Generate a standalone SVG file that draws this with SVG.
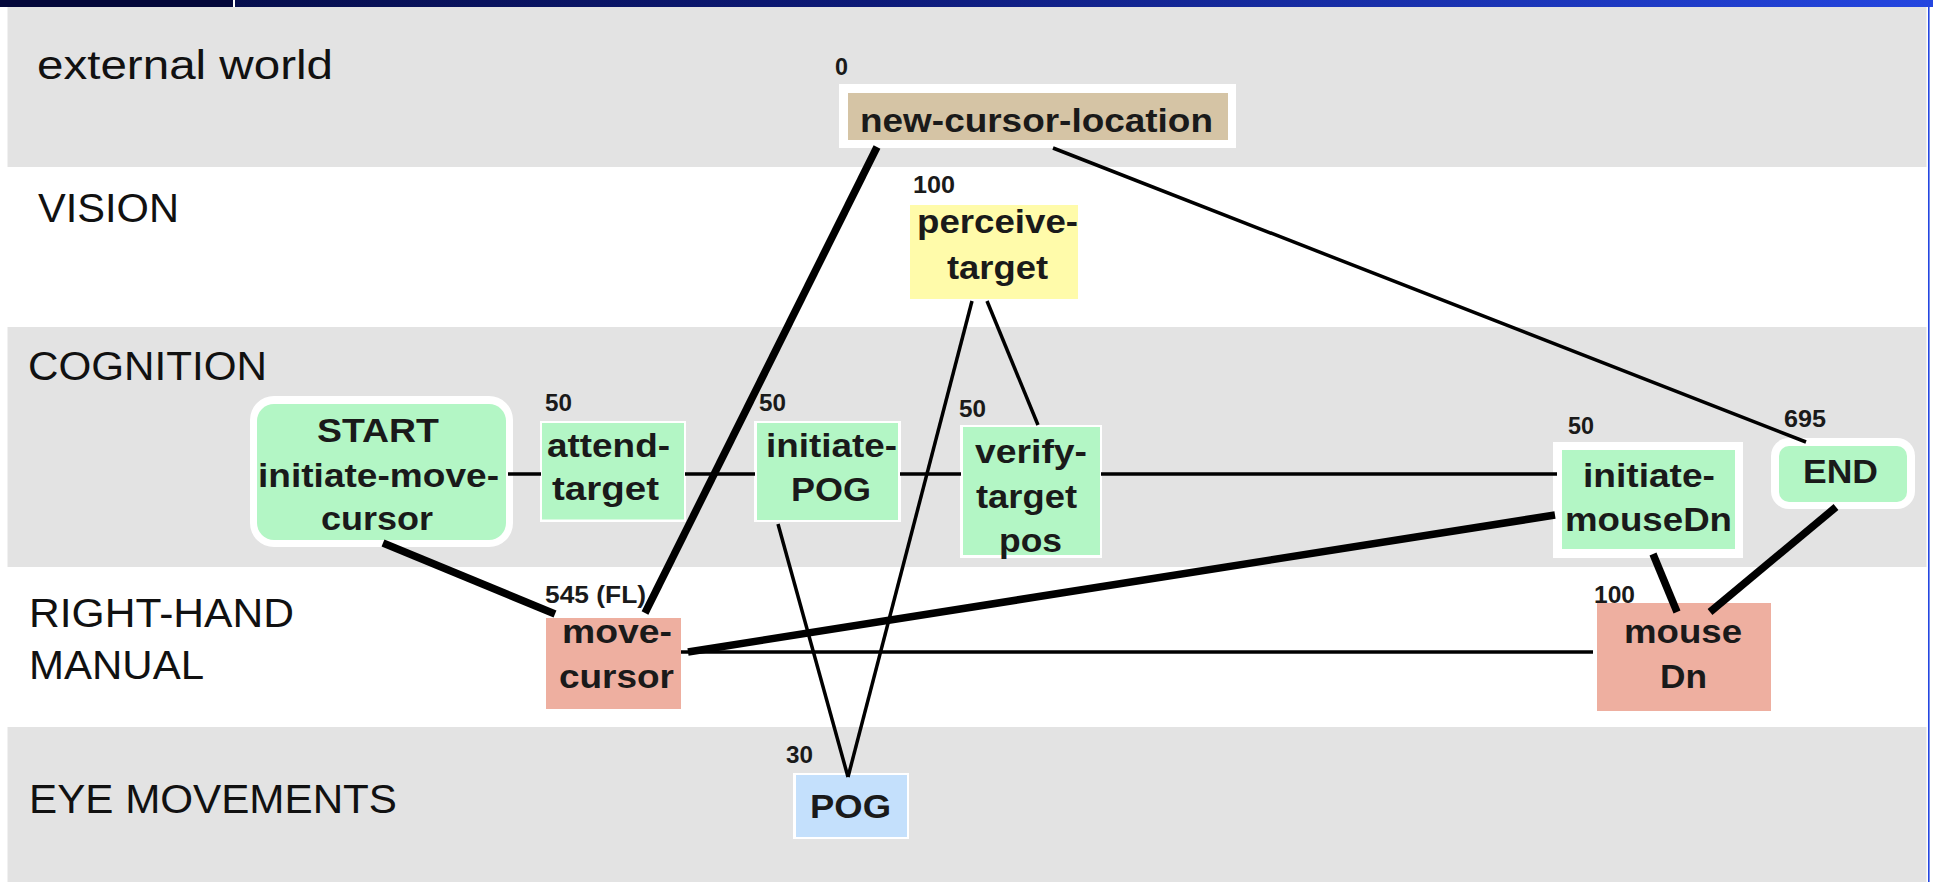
<svg xmlns="http://www.w3.org/2000/svg" width="1933" height="882" viewBox="0 0 1933 882">
  <defs>
    <linearGradient id="barGrad" x1="0" y1="0" x2="1" y2="0">
      <stop offset="0" stop-color="#040a3e"/>
      <stop offset="0.45" stop-color="#0d1a78"/>
      <stop offset="1" stop-color="#2446e0"/>
    </linearGradient>
    <style>
      .lane { font-family: "Liberation Sans", Arial, sans-serif; font-size: 40px; fill: #111; }
      .lbl { font-family: "Liberation Sans", Arial, sans-serif; font-size: 34px; font-weight: bold; fill: #1a1a1a; }
      .num { font-family: "Liberation Sans", Arial, sans-serif; font-size: 23px; font-weight: bold; fill: #1a1a1a; }
      .band { fill: #e3e3e3; }
      .frame { fill: #ffffff; }
      .green { fill: #b3f6c5; }
      .tan { fill: #d5c4a5; }
      .yellow { fill: #fffbaa; }
      .salmon { fill: #eeafa0; }
      .blue { fill: #c4e0fc; }
      .thin { stroke: #000; stroke-width: 3.5; fill: none; }
      .thick { stroke: #000; stroke-width: 7.5; fill: none; }
    </style>
  </defs>

  <!-- page background and header bar -->
  <rect x="0" y="0" width="1933" height="882" fill="#ffffff"/>
  <rect x="0" y="0" width="1933" height="7" fill="url(#barGrad)"/>
  <rect x="0" y="0" width="233" height="7" fill="#03073a"/>
  <rect x="233" y="0" width="2" height="7" fill="#ffffff"/>
  <rect x="1928" y="0" width="1.6" height="882" fill="#2446e0"/>

  <!-- swimlanes -->
  <g id="lanes">
    <rect class="band" x="7.5" y="7" width="1919" height="160"/>
    <rect class="band" x="7.5" y="327" width="1919" height="240"/>
    <rect class="band" x="7.5" y="727" width="1919" height="155"/>
    <text class="lane" x="37" y="79" font-size="45" textLength="296" lengthAdjust="spacingAndGlyphs">external world</text>
    <text class="lane" x="38" y="222" textLength="141" lengthAdjust="spacingAndGlyphs">VISION</text>
    <text class="lane" x="28" y="380" textLength="239" lengthAdjust="spacingAndGlyphs">COGNITION</text>
    <text class="lane" x="29" y="627" textLength="265" lengthAdjust="spacingAndGlyphs">RIGHT-HAND</text>
    <text class="lane" x="29" y="679" textLength="175" lengthAdjust="spacingAndGlyphs">MANUAL</text>
    <text class="lane" x="29" y="813" textLength="368" lengthAdjust="spacingAndGlyphs">EYE MOVEMENTS</text>
  </g>

  <!-- operators -->
  <g id="new-cursor-location">
    <rect class="frame" x="839" y="84" width="397" height="64"/>
    <rect class="tan" x="848" y="93" width="380" height="47"/>
    <text class="num" x="835" y="75" textLength="13" lengthAdjust="spacingAndGlyphs">0</text>
    <text class="lbl" x="860" y="132" textLength="353" lengthAdjust="spacingAndGlyphs">new-cursor-location</text>
  </g>

  <g id="start">
    <rect class="frame" x="250" y="396" width="263" height="151" rx="24"/>
    <rect class="green" x="257" y="404" width="249" height="136" rx="17"/>
    <text class="lbl" x="317" y="442" textLength="122" lengthAdjust="spacingAndGlyphs">START</text>
    <text class="lbl" x="258" y="487" textLength="241" lengthAdjust="spacingAndGlyphs">initiate-move-</text>
    <text class="lbl" x="321" y="530" textLength="112" lengthAdjust="spacingAndGlyphs">cursor</text>
  </g>

  <g id="attend-target">
    <rect class="frame" x="540" y="421" width="146" height="101"/>
    <rect class="green" x="542" y="423" width="142" height="96.5"/>
    <text class="num" x="545" y="411" textLength="27" lengthAdjust="spacingAndGlyphs">50</text>
    <text class="lbl" x="547" y="457" textLength="123" lengthAdjust="spacingAndGlyphs">attend-</text>
    <text class="lbl" x="552" y="500" textLength="107" lengthAdjust="spacingAndGlyphs">target</text>
  </g>

  <g id="perceive-target">
    <rect class="yellow" x="910" y="205" width="168" height="94"/>
    <text class="num" x="913" y="193" textLength="42" lengthAdjust="spacingAndGlyphs">100</text>
    <text class="lbl" x="917" y="233" textLength="161" lengthAdjust="spacingAndGlyphs">perceive-</text>
    <text class="lbl" x="947" y="279" textLength="101" lengthAdjust="spacingAndGlyphs">target</text>
  </g>

  <g id="initiate-pog">
    <rect class="frame" x="754" y="421" width="147" height="101"/>
    <rect class="green" x="757" y="423" width="141" height="97"/>
    <text class="num" x="759" y="411" textLength="27" lengthAdjust="spacingAndGlyphs">50</text>
    <text class="lbl" x="766" y="457" textLength="131" lengthAdjust="spacingAndGlyphs">initiate-</text>
    <text class="lbl" x="791" y="501" textLength="80" lengthAdjust="spacingAndGlyphs">POG</text>
  </g>

  <g id="verify-target-pos">
    <rect class="frame" x="960" y="425" width="142" height="133"/>
    <rect class="green" x="963" y="427" width="137" height="128"/>
    <text class="num" x="959" y="417" textLength="27" lengthAdjust="spacingAndGlyphs">50</text>
    <text class="lbl" x="975" y="463" textLength="112" lengthAdjust="spacingAndGlyphs">verify-</text>
    <text class="lbl" x="976" y="508" textLength="101" lengthAdjust="spacingAndGlyphs">target</text>
    <text class="lbl" x="999" y="552" textLength="63" lengthAdjust="spacingAndGlyphs">pos</text>
  </g>

  <g id="initiate-mousedn">
    <rect class="frame" x="1553" y="442" width="190" height="116"/>
    <rect class="green" x="1562" y="450" width="173" height="99"/>
    <text class="num" x="1568" y="434" textLength="26" lengthAdjust="spacingAndGlyphs">50</text>
    <text class="lbl" x="1583" y="487" textLength="132" lengthAdjust="spacingAndGlyphs">initiate-</text>
    <text class="lbl" x="1565" y="531" textLength="167" lengthAdjust="spacingAndGlyphs">mouseDn</text>
  </g>

  <g id="end">
    <rect class="frame" x="1771" y="438" width="144" height="71" rx="18"/>
    <rect class="green" x="1779" y="446" width="128" height="56" rx="10"/>
    <text class="num" x="1784" y="427" textLength="42" lengthAdjust="spacingAndGlyphs">695</text>
    <text class="lbl" x="1803" y="483" textLength="75" lengthAdjust="spacingAndGlyphs">END</text>
  </g>

  <g id="move-cursor">
    <rect class="salmon" x="546" y="618" width="135" height="91"/>
    <text class="num" x="545" y="603" textLength="101" lengthAdjust="spacingAndGlyphs">545 (FL)</text>
    <text class="lbl" x="562" y="643" textLength="110" lengthAdjust="spacingAndGlyphs">move-</text>
    <text class="lbl" x="559" y="688" textLength="115" lengthAdjust="spacingAndGlyphs">cursor</text>
  </g>

  <g id="mousedn">
    <rect class="salmon" x="1597" y="603" width="174" height="108"/>
    <text class="num" x="1594" y="603" textLength="41" lengthAdjust="spacingAndGlyphs">100</text>
    <text class="lbl" x="1624" y="643" textLength="118" lengthAdjust="spacingAndGlyphs">mouse</text>
    <text class="lbl" x="1660" y="688" textLength="47" lengthAdjust="spacingAndGlyphs">Dn</text>
  </g>

  <g id="pog">
    <rect class="frame" x="793" y="773" width="116" height="66"/>
    <rect class="blue" x="796" y="775" width="111" height="62"/>
    <text class="num" x="786" y="763" textLength="27" lengthAdjust="spacingAndGlyphs">30</text>
    <text class="lbl" x="810" y="818" textLength="81" lengthAdjust="spacingAndGlyphs">POG</text>
  </g>

  <!-- dependency links -->
  <g id="connectors">
    <line class="thin" x1="508" y1="474" x2="541" y2="474"/>
    <line class="thin" x1="685" y1="474" x2="755" y2="474"/>
    <line class="thin" x1="900" y1="474" x2="961" y2="474"/>
    <line class="thin" x1="1101" y1="474" x2="1557" y2="474"/>
    <line class="thin" x1="1053" y1="148" x2="1806" y2="442"/>
    <line class="thin" x1="972" y1="301" x2="848" y2="777"/>
    <line class="thin" x1="987" y1="301" x2="1038" y2="425"/>
    <line class="thin" x1="778" y1="524" x2="848" y2="777"/>
    <line class="thin" x1="681" y1="652" x2="1593" y2="652"/>
    <line class="thick" x1="877" y1="147" x2="645" y2="613"/>
    <line class="thick" x1="383" y1="543" x2="555" y2="614"/>
    <line class="thick" x1="688" y1="652" x2="1555" y2="515"/>
    <line class="thick" x1="1653" y1="554" x2="1677" y2="612"/>
    <line class="thick" x1="1836" y1="507" x2="1710" y2="612"/>
  </g>
</svg>
